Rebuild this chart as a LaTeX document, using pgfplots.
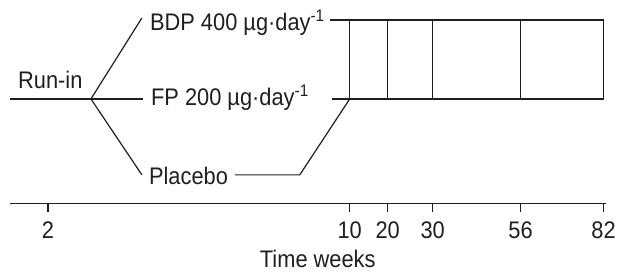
\documentclass[border=0pt]{standalone}
\usepackage{pgfplots}
\pgfplotsset{compat=1.18}
\usepackage{fontspec}
\setmainfont{Liberation Sans}[FakeStretch=0.91]
\newcommand{\lblfont}{\fontsize{24}{28}\selectfont}
\colorlet{ink}{black!88}
\begin{document}
\begin{tikzpicture}
\begin{axis}[
  scale only axis, width=596pt, height=204pt,
  xmin=10, xmax=606, ymin=69, ymax=273,
  axis x line=bottom, axis y line=none,
  axis line style={-, line width=1.2pt, ink},
  clip=false,
  xtick={48,350,388,433,521,604},
  xticklabels={2,10,20,30,56,82},
  tick align=outside, major tick length=8pt,
  tick style={line width=1.2pt, ink},
  xticklabel style={font=\lblfont, text=ink, anchor=base, yshift=-27pt},
  /pgf/number format/assume math mode=true,
]
\path (axis cs:0,0) rectangle (axis cs:619,273);
% run-in and branches
\addplot[ink, line width=1.2pt] coordinates {(10,174) (91,174)};
\addplot[ink, line width=1.2pt] coordinates {(91,174) (142,255)};
\addplot[ink, line width=1.2pt] coordinates {(91,174) (143,174)};
\addplot[ink, line width=1.2pt] coordinates {(91,174) (142,98)};
% BDP line
\addplot[ink, line width=1.2pt] coordinates {(330,253) (604,253)};
% FP line
\addplot[ink, line width=1.2pt] coordinates {(332,174) (604,174)};
% Placebo line
\addplot[ink, line width=1.2pt] coordinates {(235,98) (300,98) (350,174)};
% verticals
\addplot[ink, line width=1.2pt] coordinates {(350,253) (350,174)};
\addplot[ink, line width=1.2pt] coordinates {(388,253) (388,174)};
\addplot[ink, line width=1.2pt] coordinates {(433,253) (433,174)};
\addplot[ink, line width=1.2pt] coordinates {(521,253) (521,174)};
\addplot[ink, line width=1.2pt] coordinates {(604,253) (604,174)};
% labels
\node[anchor=base west, inner sep=0pt, font=\lblfont, text=ink] at (axis cs:18,184) {Run-in};
\node[anchor=base west, inner sep=0pt, font=\lblfont, text=ink] at (axis cs:150,242) {BDP 400 µg·day\textsuperscript{-1}};
\node[anchor=base west, inner sep=0pt, font=\lblfont, text=ink] at (axis cs:151,167) {FP 200 µg·day\textsuperscript{-1}};
\node[anchor=base west, inner sep=0pt, font=\lblfont, text=ink] at (axis cs:149,88) {Placebo};
\node[anchor=base, inner sep=0pt, font=\lblfont, text=ink] at (axis cs:318,5) {Time weeks};
\end{axis}
\end{tikzpicture}
\end{document}
